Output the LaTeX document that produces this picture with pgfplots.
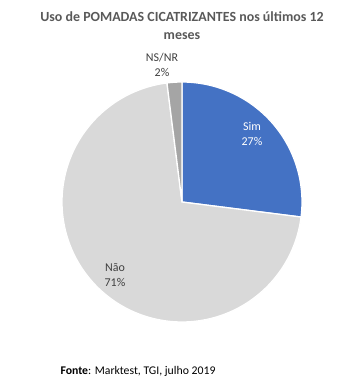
\documentclass[border=0pt]{standalone}
\usepackage{pgfplots}
\pgfplotsset{compat=1.18}
\usepackage{pgfplotstable}
\usepackage{fontspec}
\setmainfont{Carlito}
\definecolor{cblue}{HTML}{4472C4}
\definecolor{clight}{HTML}{D9D9D9}
\definecolor{cgray}{HTML}{A5A5A5}
\definecolor{ctitle}{HTML}{595959}
\definecolor{clabel}{HTML}{404040}
\pgfplotstableread{
label value
Sim 27
Nao 71
NSNR 2
}\piedata
\begin{document}
\begin{tikzpicture}
\begin{axis}[
  width=359bp, height=382bp, scale only axis,
  xmin=0, xmax=359, ymin=0, ymax=382,
  hide axis, clip=false,
]
\path[use as bounding box] (rel axis cs:0,0) rectangle (rel axis cs:1,1);
% Sim: 27% from 90 deg clockwise
\addplot[fill=cblue, draw=white, line width=1.3pt, domain={90-27*3.6}:90, samples=80, variable=\t]
  ({182+120*cos(t)},{180+120*sin(t)}) -- (axis cs:182,180) -- cycle;
% Nao: 71%
\addplot[fill=clight, draw=white, line width=1.3pt, domain={90-98*3.6}:{90-27*3.6}, samples=160, variable=\t]
  ({182+120*cos(t)},{180+120*sin(t)}) -- (axis cs:182,180) -- cycle;
% NS/NR: 2%
\addplot[fill=cgray, draw=white, line width=1.3pt, domain={90-100*3.6}:{90-98*3.6}, samples=10, variable=\t]
  ({182+120*cos(t)},{180+120*sin(t)}) -- (axis cs:182,180) -- cycle;
\node[font=\fontsize{14}{18}\selectfont\bfseries, text=ctitle, align=center] at (axis cs:182,356)
  {Uso de POMADAS CICATRIZANTES nos últimos 12\\meses};
\node[font=\fontsize{12}{15.5}\selectfont, text=white, align=center] at (axis cs:252,248) {Sim\\27\%};
\node[font=\fontsize{12}{15.5}\selectfont, text=clabel, align=center] at (axis cs:162,317) {NS/NR\\2\%};
\node[font=\fontsize{12}{15.5}\selectfont, text=clabel, align=center] at (axis cs:115,107) {Não\\71\%};
\node[font=\fontsize{11.8}{13}\selectfont, text=black, anchor=west] at (axis cs:57,11) {\textbf{Fonte}: Marktest, TGI, julho 2019};
\end{axis}
\end{tikzpicture}
\end{document}
